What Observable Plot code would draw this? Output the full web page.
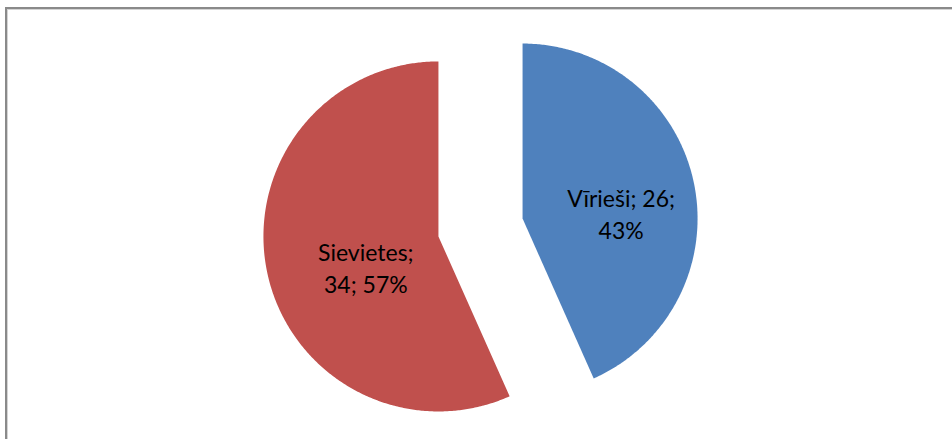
<!DOCTYPE html>
<html>
<head>
<meta charset="utf-8">
<script src="https://cdn.jsdelivr.net/npm/d3@7"></script>
<script src="https://cdn.jsdelivr.net/npm/@observablehq/plot@0.6"></script>
<style>
  html, body { margin: 0; padding: 0; background: #fff; overflow: hidden; }
  #wrap { position: relative; width: 952px; height: 439px; }
  #frame { position: absolute; left: 5px; top: 7px; width: 1000px; height: 500px;
           border-left: 2px solid #8a8a8a; border-top: 2px solid #8a8a8a;
           box-shadow: inset 1px 1px 0 #d4d4d4; pointer-events: none; z-index: 2; }
  #chart { position: absolute; left: 0; top: 0; }
</style>
</head>
<body>
<div id="wrap"><div id="chart"></div><div id="frame"></div></div>
<script>
// ---- data ----
const categories = ["Vīrieši", "Sievietes"];
const values = [26, 34];

// ---- layout ----
const W = 952, H = 439;
const CX = 480, CY = 227, R = 175, EXPLODE = 43;

const total = d3.sum(values);
const rows = categories.map((name, i) => ({name, value: values[i], pct: Math.round(values[i] / total * 100)}));
const arcs = d3.pie().sort(null).value(d => d.value)(rows);

function wrap(str, maxChars) {
  const words = str.split(" ");
  const lines = [];
  let cur = "";
  for (const w of words) {
    const t = cur ? cur + " " + w : w;
    if (t.length > maxChars && cur) { lines.push(cur); cur = w; } else cur = t;
  }
  if (cur) lines.push(cur);
  return lines.join("\n");
}

const polys = [];
const labels = [];
for (const a of arcs) {
  const mid = (a.startAngle + a.endAngle) / 2;
  const ox = CX + EXPLODE * Math.sin(mid);
  const oy = CY - EXPLODE * Math.cos(mid);
  polys.push({name: a.data.name, x: ox, y: oy});
  const n = Math.max(2, Math.ceil((a.endAngle - a.startAngle) / (Math.PI / 360)));
  for (let k = 0; k <= n; k++) {
    const t = a.startAngle + (a.endAngle - a.startAngle) * k / n;
    polys.push({name: a.data.name, x: ox + R * Math.sin(t), y: oy - R * Math.cos(t)});
  }
  polys.push({name: a.data.name, x: ox, y: oy});
  labels.push({
    name: a.data.name,
    x: ox + (R / 2) * Math.sin(mid),
    y: oy - (R / 2) * Math.cos(mid),
    text: wrap(`${a.data.name}; ${a.data.value}; ${a.data.pct}%`, 12)
  });
}

const chart = Plot.plot({
  width: W,
  height: H,
  margin: 0,
  style: {background: "transparent"},
  x: {domain: [0, W], range: [0, W], axis: null},
  y: {domain: [0, H], range: [0, H], axis: null},
  color: {domain: categories, range: ["#4F81BD", "#C0504D"]},
  marks: [
    Plot.line(polys, {x: "x", y: "y", z: "name", fill: "name", stroke: "none", curve: "linear"}),
    Plot.text(labels, {
      x: "x", y: "y", text: "text",
      dx: 13, dy: 12,
      fontSize: 23, lineHeight: 32 / 23,
      fontFamily: "Lato", fill: "black", textAnchor: "middle"
    })
  ]
});
document.getElementById("chart").appendChild(chart);
</script>
</body>
</html>
